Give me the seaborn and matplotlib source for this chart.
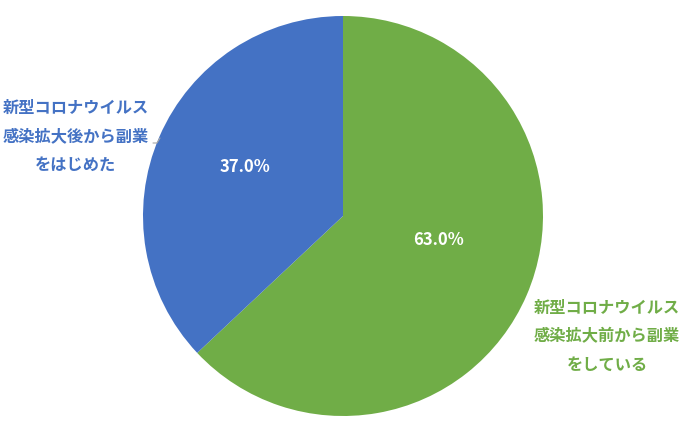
import matplotlib
matplotlib.use("Agg")
import matplotlib.pyplot as plt
import seaborn as sns

# data
labels = ["新型コロナウイルス\n感染拡大前から副業\nをしている",
          "新型コロナウイルス\n感染拡大後から副業\nをはじめた"]
shares = [63.0, 37.0]
colors = ["#70AD47", "#4472C4"]
label_colors = ["#70AD47", "#4472C4"]

sns.set_theme(style="white")
plt.rcParams["font.family"] = ["Noto Sans CJK JP", "DejaVu Sans"]

W, H = 683, 433
fig = plt.figure(figsize=(W / 100, H / 100), dpi=100)
ax = fig.add_axes([0, 0, 1, 1])

cx, cy, r = 343, H - 216, 200
wedges, _, autotexts = ax.pie(shares, colors=colors, startangle=90, counterclock=False,
                              center=(cx, cy), radius=r, autopct="%.1f%%",
                              pctdistance=0.52, frame=True,
                              wedgeprops=dict(linewidth=0),
                              textprops=dict(color="white", fontsize=12, fontweight="bold"))
ax.set_xlim(0, W)
ax.set_ylim(0, H)
ax.axis("off")

# nudge percentage labels to the reference spots
autotexts[0].set_position((438, H - 240))
autotexts[1].set_position((245, H - 167))

# category labels
ax.text(607, H - 336, labels[0], ha="center", va="center", fontsize=11.7,
        fontweight="bold", color=label_colors[0], linespacing=1.95)
ax.text(76, H - 136, labels[1], ha="center", va="center", fontsize=11.7,
        fontweight="bold", color=label_colors[1], linespacing=1.95)

# leader line for the blue label
ax.plot([153, 157, 160], [H - 143, H - 143, H - 138], color="#A6A6A6", lw=0.8)

fig.savefig("out.png", dpi=100)
